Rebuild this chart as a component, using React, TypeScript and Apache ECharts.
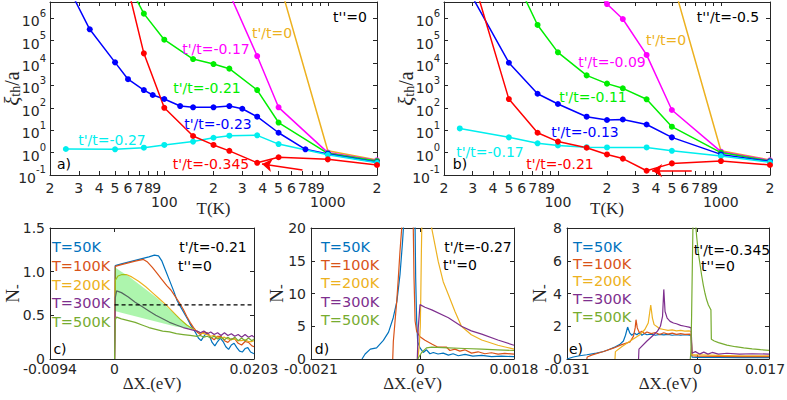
import React, { useEffect, useRef } from 'react';
import * as echarts from 'echarts';

const AX = '#262626';
const SANS = 'DejaVu Sans';
const SERIF = 'Liberation Serif';

const C_BLUE = '#0000ff';
const C_RED = '#ff0000';
const C_GREEN = '#00ee00';
const C_MAG = '#ff00ff';
const C_CYAN = '#00eeee';
const C_ORANGE = '#EDB120';

const M_BLUE = '#0072BD';
const M_RED = '#D95319';
const M_YEL = '#EDB120';
const M_PUR = '#7E2F8E';
const M_GRN = '#77AC30';

// ---- tick values (top panels, log axes)
const xTickVals = [20.0001, 30, 40, 50, 60, 70, 80, 90, 100, 200, 300, 400, 500, 600, 700, 800, 900, 1000, 1999.99];
const yTickVals = [0.100001, 1, 10, 100, 1000, 1e4, 1e5, 1e6];

// ---- panel a (t''=0)
const aT_0 = [500, 1000, 2000];
const aXi_0 = [5.6e7, 1.2, 0.47];
const aT_017 = [250, 370, 500, 1000, 2000];
const aXi_017 = [1.3e7, 2.05e4, 105, 1.0, 0.45];
const aT_021 = [60, 75, 100, 150, 200, 250, 370, 500, 1000, 2000];
const aXi_021 = [3.6e7, 1.6e6, 1.1e5, 1.5e4, 9e3, 5.6e3, 620, 22, 0.93, 0.42];
const aT_023 = [25, 35, 50, 60, 75, 85, 100, 125, 150, 200, 250, 300, 370, 500, 730, 1000, 2000];
const aXi_023 = [4e7, 3.2e5, 1.07e4, 1.9e3, 620, 373, 247, 120, 105, 105, 120, 91, 40, 7.7, 1.4, 0.87, 0.37];
const aT_027 = [25, 50, 75, 100, 150, 200, 250, 370, 500, 1000, 2000];
const aXi_027 = [1.45, 1.4, 1.66, 2.2, 3.1, 4.6, 5.7, 5.9, 2.4, 0.8, 0.35];
const aT_0345 = [60, 75, 100, 150, 200, 250, 370, 500, 1000, 2000];
const aXi_0345 = [2.2e7, 2.7e4, 100, 5.5, 2.2, 1.2, 0.35, 0.62, 0.5, 0.28];
const aArrow = [[700, 0.167], [396, 0.31]];

// ---- panel b (t''/t=-0.5)
const bT_0 = [500, 1000, 2000];
const bXi_0 = [6e7, 1.2, 0.47];
const bT_009 = [150, 200, 250, 350, 500, 1000, 2000];
const bXi_009 = [5e7, 4.3e6, 9.2e5, 2.3e4, 80, 1.1, 0.45];
const bT_011 = [60, 75, 100, 150, 200, 250, 350, 500, 1000, 2000];
const bXi_011 = [1.5e7, 5e5, 3e4, 2.8e3, 1.2e3, 740, 240, 14.4, 1.0, 0.42];
const bT_013 = [25, 50, 75, 100, 150, 200, 250, 350, 500, 1000, 2000];
const bXi_013 = [9e7, 1.03e4, 425, 148, 40, 28.5, 30, 18, 4.8, 0.83, 0.4];
const bT_017 = [25, 50, 75, 100, 150, 200, 350, 500, 1000, 2000];
const bXi_017 = [12, 4.8, 2.6, 2.1, 1.75, 1.7, 1.7, 1.2, 0.7, 0.37];
const bT_021 = [30, 50, 75, 100, 150, 200, 250, 350, 500, 1000, 2000];
const bXi_021 = [6.5e7, 245, 7.7, 3.1, 1.65, 0.83, 0.54, 0.155, 0.33, 0.42, 0.28];
const bArrow = [[662, 0.155], [378, 0.158]];

// ---- panel c (t'/t=-0.21)
const c50 = [[0,0],[0.0001,1.07],[0.001,1.09],[0.002,1.11],[0.003,1.13],[0.004,1.15],[0.005,1.17],[0.0058,1.19],[0.0064,1.18],[0.0069,1.12],[0.0074,1.02],[0.008,0.9],[0.0086,0.78],[0.0091,0.67],[0.0096,0.6],[0.0101,0.53],[0.0106,0.46],[0.011,0.4],[0.0114,0.35],[0.0118,0.3],[0.0122,0.24],[0.0126,0.21],[0.013,0.26],[0.0134,0.3],[0.0138,0.27],[0.0142,0.19],[0.0146,0.15],[0.015,0.2],[0.0154,0.24],[0.0158,0.2],[0.0162,0.14],[0.0166,0.11],[0.017,0.16],[0.0174,0.18],[0.0178,0.13],[0.0182,0.09],[0.0186,0.08],[0.019,0.12],[0.0194,0.13],[0.0198,0.08],[0.0203,0.06]];
const c100 = [[0,0],[0.0001,1.06],[0.001,1.08],[0.002,1.1],[0.003,1.12],[0.0042,1.14],[0.0048,1.11],[0.0055,1.05],[0.0062,0.98],[0.0069,0.91],[0.0076,0.84],[0.0082,0.79],[0.0088,0.72],[0.0094,0.65],[0.01,0.57],[0.0105,0.49],[0.011,0.42],[0.0115,0.36],[0.012,0.31],[0.0125,0.28],[0.013,0.31],[0.0135,0.3],[0.014,0.25],[0.0145,0.22],[0.015,0.26],[0.0155,0.26],[0.016,0.21],[0.0165,0.19],[0.017,0.23],[0.0175,0.23],[0.018,0.18],[0.0185,0.16],[0.019,0.2],[0.0195,0.19],[0.02,0.15],[0.0203,0.14]];
const c200 = [[0,0],[0.0001,0.9],[0.0005,0.95],[0.001,0.965],[0.0018,0.965],[0.0025,0.94],[0.0035,0.89],[0.0045,0.83],[0.0055,0.76],[0.0065,0.69],[0.0075,0.62],[0.0085,0.54],[0.0095,0.46],[0.0105,0.39],[0.0115,0.34],[0.0125,0.3],[0.013,0.29],[0.0135,0.28],[0.014,0.26],[0.0145,0.27],[0.015,0.25],[0.0155,0.24],[0.016,0.25],[0.0165,0.23],[0.017,0.22],[0.0175,0.23],[0.018,0.21],[0.0185,0.21],[0.019,0.22],[0.0195,0.2],[0.02,0.2],[0.0203,0.21]];
const c300 = [[0,0],[0.0001,0.7],[0.0003,0.78],[0.001,0.76],[0.002,0.71],[0.003,0.65],[0.004,0.6],[0.005,0.55],[0.006,0.5],[0.007,0.46],[0.008,0.42],[0.009,0.39],[0.01,0.36],[0.011,0.34],[0.012,0.32],[0.0125,0.3],[0.013,0.32],[0.0135,0.29],[0.014,0.31],[0.0145,0.28],[0.015,0.3],[0.0155,0.27],[0.016,0.3],[0.0165,0.27],[0.017,0.29],[0.0175,0.26],[0.018,0.28],[0.0185,0.25],[0.019,0.28],[0.0195,0.25],[0.02,0.27],[0.0203,0.25]];
const c500 = [[0,0],[0.0001,0.45],[0.0003,0.48],[0.001,0.46],[0.002,0.44],[0.003,0.42],[0.004,0.39],[0.005,0.36],[0.006,0.34],[0.007,0.32],[0.008,0.31],[0.009,0.29],[0.01,0.28],[0.011,0.27],[0.012,0.26],[0.0125,0.27],[0.013,0.25],[0.0135,0.26],[0.014,0.24],[0.0145,0.26],[0.015,0.23],[0.0155,0.25],[0.016,0.22],[0.0165,0.25],[0.017,0.22],[0.0175,0.25],[0.018,0.21],[0.0185,0.24],[0.019,0.21],[0.0195,0.24],[0.02,0.21],[0.0203,0.23]];
const cBandX = [0.00005, 0.001, 0.002, 0.003, 0.004, 0.005, 0.006, 0.007, 0.008, 0.009, 0.01, 0.011, 0.0116];
const cBandHigh = [1.05, 1.0, 0.95, 0.89, 0.83, 0.77, 0.71, 0.64, 0.57, 0.5, 0.43, 0.37, 0.34];
const cBandLow = [0.55, 0.53, 0.51, 0.49, 0.47, 0.45, 0.43, 0.41, 0.39, 0.37, 0.36, 0.345, 0.34];
const cThreshold = [[0, 0.62], [0.0203, 0.62]];

// ---- panel d (t'/t=-0.27)
const d50L = [[-0.00112,0],[-0.00106,0.76],[-0.00096,1.5],[-0.00084,1.7],[-0.00071,2.85],[-0.00061,4.1],[-0.00052,6.3],[-0.00045,8.8],[-0.00039,12.9],[-0.000345,17.5],[-0.00032,20.5],[-0.0003,26]];
const d50R = [[-0.000105,26],[-0.0001,20],[-0.000089,12.4],[-0.00007,5.8],[-0.00005,2.6],[-0.000006,1.7],[0.000057,1.0],[0.00012,1.4],[0.000185,0.8],[0.00025,1.0],[0.00034,0.76],[0.00044,0.9],[0.00054,0.6],[0.00063,0.8],[0.00073,0.5],[0.00086,0.7],[0.00101,0.45],[0.00118,0.55],[0.00137,0.35],[0.00156,0.45],[0.0018,0.35]];
const d100L = [[-0.00053,0],[-0.000518,2.7],[-0.000485,5.8],[-0.000453,8.8],[-0.000422,12.4],[-0.00039,16.5],[-0.000357,20],[-0.00034,25]];
const d100R = [[-0.00014,25],[-0.000135,20],[-0.000121,12.4],[-0.0001,5.8],[-0.00007,4.2],[-0.000006,3.4],[0.00009,2.85],[0.00022,2.3],[0.00034,1.8],[0.000505,1.8],[0.000568,1.3],[0.000664,1.5],[0.00076,1.2],[0.000856,1.4],[0.000984,0.9],[0.00111,1.1],[0.00124,0.8],[0.001367,0.95],[0.001494,0.75],[0.001622,0.85],[0.0018,0.75]];
const d200 = [[-0.00005,0],[-0.00002,2],[0,5],[0.00001,10],[0.00002,16],[0.00003,21],[0.00005,26],[0.00019,26],[0.000218,20],[0.00028,17.5],[0.000344,14.9],[0.00044,11.8],[0.00054,9.8],[0.000664,7.3],[0.00079,5.0],[0.00098,3.7],[0.00118,2.9],[0.0013,2.6],[0.00149,2.1],[0.00165,1.8],[0.0018,1.5]];
const d300 = [[-0.000058,0],[-0.00004,4.7],[-0.000006,8.3],[0.00009,7.9],[0.00022,7.5],[0.00054,6.3],[0.00079,5.0],[0.00098,4.3],[0.00118,3.8],[0.00149,2.9],[0.0018,2.1]];
const d500 = [[-0.00005,0],[0.000026,1.0],[0.00012,1.7],[0.00022,1.8],[0.00054,1.7],[0.00086,1.6],[0.00118,1.5],[0.00149,1.4],[0.0018,1.3]];

// ---- panel e (t'/t=-0.345)
const e50 = [[-0.031,0],[-0.0295,0.12],[-0.028,0.2],[-0.0263,0.26],[-0.024,0.36],[-0.0223,0.46],[-0.021,0.58],[-0.0195,0.75],[-0.0185,0.88],[-0.0176,1.1],[-0.0171,1.45],[-0.0166,1.95],[-0.0161,1.6],[-0.0156,1.45],[-0.015,1.58],[-0.0144,1.48],[-0.0138,1.6],[-0.0132,1.45],[-0.0126,1.55],[-0.012,1.48],[-0.011,1.52],[-0.01,1.45],[-0.009,1.5],[-0.008,1.47],[-0.007,1.5],[-0.006,1.45],[-0.005,1.48],[-0.004,1.45],[-0.003,1.48],[-0.0018,1.45],[-0.0015,1.4],[-0.0013,0.12],[0,0.1],[0.005,0.1],[0.01,0.08],[0.017,0.08]];
const e100 = [[-0.0263,0],[-0.0262,0.12],[-0.025,0.25],[-0.0223,0.46],[-0.02,0.66],[-0.018,0.88],[-0.016,1.05],[-0.0152,1.4],[-0.0148,1.9],[-0.0146,2.4],[-0.0143,1.9],[-0.0138,1.6],[-0.0132,1.7],[-0.0126,1.55],[-0.012,1.65],[-0.011,1.55],[-0.01,1.62],[-0.009,1.5],[-0.008,1.6],[-0.007,1.52],[-0.006,1.58],[-0.005,1.5],[-0.004,1.55],[-0.003,1.5],[-0.0018,1.52],[-0.0015,1.45],[-0.0013,0.2],[0,0.18],[0.005,0.16],[0.01,0.15],[0.017,0.15]];
const e200 = [[-0.0196,0],[-0.0195,0.45],[-0.018,0.75],[-0.016,1.1],[-0.0145,1.35],[-0.0136,1.5],[-0.0125,1.8],[-0.0117,2.2],[-0.0111,3.3],[-0.0107,2.5],[-0.0103,2.1],[-0.0095,1.95],[-0.009,1.85],[-0.008,1.8],[-0.007,1.75],[-0.006,1.78],[-0.005,1.72],[-0.004,1.75],[-0.003,1.7],[-0.002,1.72],[-0.0015,1.68],[-0.0013,0.25],[0,0.25],[0.005,0.22],[0.01,0.2],[0.017,0.2]];
const e300 = [[-0.014,0],[-0.0139,0.6],[-0.012,1.1],[-0.0105,1.45],[-0.0095,1.7],[-0.0088,2.0],[-0.0083,2.6],[-0.008,4.25],[-0.0077,2.9],[-0.0072,2.5],[-0.0065,2.3],[-0.0057,2.2],[-0.005,2.15],[-0.004,2.05],[-0.003,2.0],[-0.002,1.95],[-0.0015,1.9],[-0.0013,0.35],[-0.0005,0.45],[0.0005,0.3],[0.0015,0.42],[0.0025,0.3],[0.0035,0.4],[0.005,0.3],[0.007,0.35],[0.01,0.3],[0.013,0.32],[0.017,0.3]];
const e500 = [[-0.0017,0],[-0.00155,0.5],[-0.0014,2.5],[-0.0012,6],[-0.00105,8.5],[-0.0008,9.5],[-0.0005,8.5],[-0.0002,7.5],[0.0002,6.5],[0.0006,5.8],[0.001,5.1],[0.0014,4.5],[0.0018,4.0],[0.0022,3.6],[0.0026,3.3],[0.003,3.1],[0.0032,3.0],[0.0033,1.2],[0.004,1.1],[0.005,1.0],[0.007,0.85],[0.009,0.75],[0.011,0.68],[0.013,0.62],[0.015,0.57],[0.017,0.53]];

const legendLabels = ['T=50K', 'T=100K', 'T=200K', 'T=300K', 'T=500K'];
const legendColors = [M_BLUE, M_RED, M_YEL, M_PUR, M_GRN];

const cXTicks = [-0.0094, 0, 0.0203];
const dXTicks = [-0.0021, 0, 0.0018];
const eXTicks = [-0.031, 0, 0.017];

const fmtT = (v: number) => {
  const e = Math.log10(v);
  const r = Math.round(e);
  if (Math.abs(e - r) < 1e-4) return '\n' + Math.round(Math.pow(10, r));
  return String(Math.round(v / Math.pow(10, Math.floor(e))));
};
const fmtPow = (v: number) => `{b|10}{s|${Math.round(Math.log10(v))}}`;
const fmtNum = (v: number) => (Math.abs(v) < 1e-12 ? '0' : String(+v.toPrecision(6)));

const axLine = { show: true, onZero: false, lineStyle: { color: AX, width: 1 } };

function logX(grid: number, top: boolean) {
  return {
    type: 'log', logBase: 10, gridIndex: grid, min: 20, max: 2000, position: top ? 'top' : 'bottom',
    axisLine: axLine,
    axisTick: { show: true, inside: true, length: 4, customValues: xTickVals, lineStyle: { color: AX } },
    axisLabel: top ? { show: false } : {
      show: true, customValues: xTickVals, formatter: fmtT, color: AX, fontSize: 14,
      fontFamily: SANS, margin: 6, lineHeight: 14,
    },
    splitLine: { show: false },
    name: top ? '' : 'T(K)', nameLocation: 'middle', nameGap: 25, nameMoveOverlap: false,
    nameTextStyle: { fontFamily: SERIF, fontSize: 17, color: AX },
  };
}

function logY(grid: number, right: boolean) {
  return {
    type: 'log', logBase: 10, gridIndex: grid, min: 0.1, max: 5.3e6, position: right ? 'right' : 'left',
    axisLine: axLine,
    axisTick: { show: true, inside: true, length: 4, customValues: yTickVals, lineStyle: { color: AX } },
    axisLabel: right ? { show: false } : {
      show: true, customValues: yTickVals, formatter: fmtPow, margin: 4, color: AX,
      rich: {
        b: { fontSize: 14, fontFamily: SANS, color: AX, verticalAlign: 'bottom' },
        s: { fontSize: 10, fontFamily: SANS, color: AX, verticalAlign: 'top', padding: [0, 0, 10, 0] },
      },
    },
    splitLine: { show: false },
    name: right ? '' : '{x|ξ}{t|th}{y|/a}', nameLocation: 'middle', nameGap: 28, nameMoveOverlap: false,
    nameTextStyle: {
      color: AX,
      rich: {
        x: { fontSize: 21, fontFamily: SERIF, fontStyle: 'italic', color: AX },
        t: { fontSize: 14, fontFamily: SERIF, color: AX, verticalAlign: 'bottom', padding: [7, 0, 0, 0] },
        y: { fontSize: 20, fontFamily: SERIF, color: AX },
      },
    },
  };
}

function linX(grid: number, top: boolean, min: number, max: number, ticks: number[], lastPad = 0) {
  return {
    type: 'value', gridIndex: grid, min, max, position: top ? 'top' : 'bottom',
    axisLine: axLine,
    axisTick: { show: true, inside: true, length: 4, customValues: ticks, lineStyle: { color: AX } },
    axisLabel: top ? { show: false } : {
      show: true, customValues: ticks, color: AX, fontSize: 14, fontFamily: SANS, margin: 3,
      formatter: (v: number) => (lastPad && Math.abs(v - max) < 1e-9 ? `{r|${fmtNum(v)}}` : fmtNum(v)),
      rich: { r: { fontSize: 14, fontFamily: SANS, color: AX, padding: [0, lastPad, 0, 0] } },
    },
    splitLine: { show: false },
    name: top ? '' : '{d|ΔX}{t|-}{d|(eV)}', nameLocation: 'middle', nameGap: 14, nameMoveOverlap: false,
    nameTextStyle: {
      color: AX,
      rich: {
        d: { fontSize: 17, fontFamily: SERIF, color: AX },
        t: { fontSize: 13, fontFamily: SERIF, color: AX, verticalAlign: 'bottom', padding: [8, 0, 0, 0] },
      },
    },
  };
}

function linY(grid: number, right: boolean, max: number, interval: number, gap: number, dec: boolean) {
  return {
    type: 'value', gridIndex: grid, min: 0, max, interval, position: right ? 'right' : 'left',
    axisLine: axLine,
    axisTick: { show: true, inside: true, length: 4, lineStyle: { color: AX } },
    axisLabel: right ? { show: false } : {
      show: true, color: AX, fontSize: 14, fontFamily: SANS, margin: 5,
      formatter: (v: number) => (v === 0 ? '0' : dec ? v.toFixed(1) : String(v)),
    },
    splitLine: { show: false },
    name: right ? '' : '{n|N}{t|-}', nameLocation: 'middle', nameGap: gap, nameMoveOverlap: false,
    nameTextStyle: {
      color: AX,
      rich: {
        n: { fontSize: 19, fontFamily: SERIF, color: AX },
        t: { fontSize: 14, fontFamily: SERIF, color: AX, verticalAlign: 'bottom', padding: [7, 0, 0, 0] },
      },
    },
  };
}

function topLine(idx: number, T: number[], V: number[], color: string, withSymbol = true, extra: any = {}) {
  return {
    type: 'line', xAxisIndex: idx, yAxisIndex: idx, data: T.map((t, i) => [t, V[i]]),
    symbol: withSymbol ? 'circle' : 'none', symbolSize: 6, showSymbol: withSymbol,
    lineStyle: { color, width: 1.5 }, itemStyle: { color }, clip: true, silent: true, ...extra,
  };
}

function arrowMark(pts: number[][]) {
  return {
    markLine: {
      silent: true, symbol: ['none', 'arrow'], symbolSize: 10, label: { show: false },
      lineStyle: { color: C_RED, width: 1.5, type: 'solid' },
      data: [[{ coord: pts[0] }, { coord: pts[1] }]],
    },
  };
}

function botLine(idx: number, data: number[][], color: string, extra: any = {}) {
  return {
    type: 'line', xAxisIndex: idx, yAxisIndex: idx, data, symbol: 'none', showSymbol: false,
    lineStyle: { color, width: 1.2 }, itemStyle: { color }, clip: true, silent: true, ...extra,
  };
}

function txt(text: string, x: number, y: number, color: string, align = 'center', size = 14) {
  return {
    type: 'text', x, y, silent: true, z: 100,
    style: { text, fill: color, fontSize: size, fontFamily: SANS, align, verticalAlign: 'middle' },
  };
}

function legendBlock(x: number, ys: number[]) {
  return legendLabels.map((l, i) => txt(l, x, ys[i], legendColors[i], 'left', 14.5));
}

export default function App() {
  const ref = useRef<HTMLDivElement>(null);
  useEffect(() => {
    if (!ref.current) return;
    const chart = echarts.init(ref.current, null, { renderer: 'svg' });
    const option: any = {
      animation: false,
      backgroundColor: '#ffffff',
      textStyle: { fontFamily: SANS },
      grid: [
        { left: 50, top: 2, width: 327, height: 173, outerBoundsMode: 'none' },
        { left: 444, top: 2, width: 326, height: 173, outerBoundsMode: 'none' },
        { left: 50, top: 228, width: 204, height: 131, outerBoundsMode: 'none' },
        { left: 311, top: 228, width: 203, height: 131, outerBoundsMode: 'none' },
        { left: 567, top: 228, width: 202, height: 131, outerBoundsMode: 'none' },
      ],
      xAxis: [
        logX(0, false), logX(0, true),
        logX(1, false), logX(1, true),
        linX(2, false, -0.0094, 0.0203, cXTicks), linX(2, true, -0.0094, 0.0203, cXTicks),
        linX(3, false, -0.0021, 0.0018, dXTicks), linX(3, true, -0.0021, 0.0018, dXTicks),
        linX(4, false, -0.031, 0.017, eXTicks, 8), linX(4, true, -0.031, 0.017, eXTicks),
      ],
      yAxis: [
        logY(0, false), logY(0, true),
        logY(1, false), logY(1, true),
        linY(2, false, 1.5, 0.5, 27, true), linY(2, true, 1.5, 0.5, 27, true),
        linY(3, false, 20, 5, 24, false), linY(3, true, 20, 5, 24, false),
        linY(4, false, 8, 2, 17, false), linY(4, true, 8, 2, 17, false),
      ],
      series: [
        // panel a
        topLine(0, aT_0, aXi_0, C_ORANGE, false),
        topLine(0, aT_017, aXi_017, C_MAG),
        topLine(0, aT_021, aXi_021, C_GREEN),
        topLine(0, aT_023, aXi_023, C_BLUE),
        topLine(0, aT_027, aXi_027, C_CYAN),
        topLine(0, aT_0345, aXi_0345, C_RED, true, arrowMark(aArrow)),
        // panel b
        topLine(2, bT_0, bXi_0, C_ORANGE, false),
        topLine(2, bT_009, bXi_009, C_MAG),
        topLine(2, bT_011, bXi_011, C_GREEN),
        topLine(2, bT_013, bXi_013, C_BLUE),
        topLine(2, bT_017, bXi_017, C_CYAN),
        topLine(2, bT_021, bXi_021, C_RED, true, arrowMark(bArrow)),
        // panel c
        botLine(4, c50, M_BLUE),
        botLine(4, c100, M_RED),
        botLine(4, c200, M_YEL),
        botLine(4, c300, M_PUR),
        botLine(4, c500, M_GRN),
        {
          type: 'custom', coordinateSystem: 'cartesian2d', xAxisIndex: 4, yAxisIndex: 4, silent: true, z: 5,
          data: [[cBandX[0], cBandLow[0]]],
          renderItem: (_params: any, api: any) => {
            const pts: number[][] = [];
            for (let i = 0; i < cBandX.length; i++) pts.push(api.coord([cBandX[i], cBandHigh[i]]));
            for (let i = cBandX.length - 1; i >= 0; i--) pts.push(api.coord([cBandX[i], cBandLow[i]]));
            return { type: 'polygon', shape: { points: pts }, style: { fill: 'rgba(0,225,0,0.32)' } };
          },
        },
        botLine(4, cThreshold, '#000000', { lineStyle: { color: '#000000', width: 1.2, type: [4, 3] }, z: 6 }),
        // panel d
        botLine(6, d50L, M_BLUE),
        botLine(6, d50R, M_BLUE),
        botLine(6, d100L, M_RED),
        botLine(6, d100R, M_RED),
        botLine(6, d200, M_YEL),
        botLine(6, d300, M_PUR),
        botLine(6, d500, M_GRN),
        // panel e
        botLine(8, e50, M_BLUE),
        botLine(8, e100, M_RED),
        botLine(8, e200, M_YEL),
        botLine(8, e300, M_PUR),
        botLine(8, e500, M_GRN),
      ],
      graphic: [
        // a
        txt("t''=0", 350, 17, '#000000'),
        txt("t'/t=0", 272, 33, C_ORANGE),
        txt("t'/t=-0.17", 216, 49, C_MAG),
        txt("t'/t=-0.21", 207, 88, C_GREEN),
        txt("t'/t=-0.23", 218, 124, C_BLUE),
        txt("t'/t=-0.27", 112, 140, C_CYAN),
        txt("t'/t=-0.345", 211, 164, C_RED),
        txt('a)', 64, 164, '#000000'),
        // b
        txt("t''/t=-0.5", 728, 17, '#000000'),
        txt("t'/t=0", 666, 40, C_ORANGE),
        txt("t'/t=-0.09", 612, 62, C_MAG),
        txt("t'/t=-0.11", 593, 97, C_GREEN),
        txt("t'/t=-0.13", 585, 132, C_BLUE),
        txt("t'/t=-0.17", 490, 152, C_CYAN),
        txt("t'/t=-0.21", 560, 164, C_RED),
        txt('b)', 460, 164, '#000000'),
        // c
        ...legendBlock(52, [247, 265.5, 284.5, 303, 321.5]),
        txt("t'/t=-0.21", 213, 247, '#000000'),
        txt("t''=0", 178, 265.5, '#000000', 'left'),
        txt('c)', 60, 349, '#000000'),
        // d
        ...legendBlock(321, [247, 265, 283, 301.5, 320]),
        txt("t'/t=-0.27", 478, 247, '#000000'),
        txt("t''=0", 443, 265, '#000000', 'left'),
        txt('d)', 322, 349, '#000000'),
        // e
        ...legendBlock(573, [247, 264, 281, 298.5, 317]),
        txt("t'/t=-0.345", 732, 250, '#000000'),
        txt("t''=0", 701, 266, '#000000', 'left'),
        txt('e)', 576, 349, '#000000'),
      ],
    };
    chart.setOption(option);
    return () => chart.dispose();
  }, []);
  return (
    <div
      ref={ref}
      style={{ position: 'absolute', left: 0, top: 0, width: 787, height: 400, background: '#fff' }}
    />
  );
}
